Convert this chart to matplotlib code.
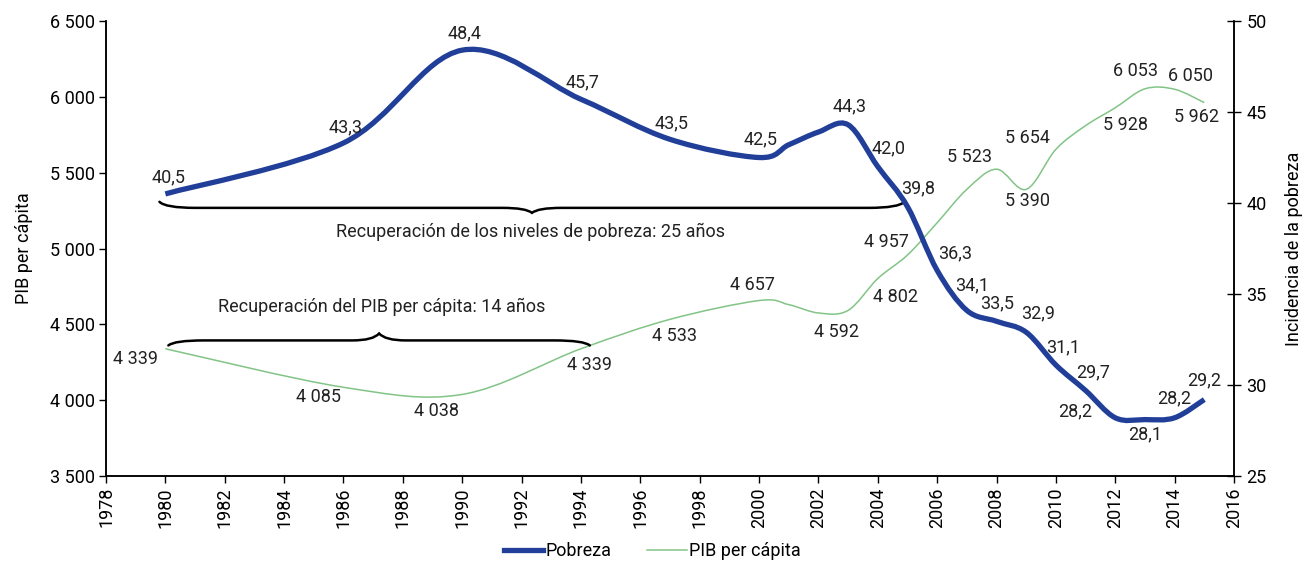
import numpy as np
import matplotlib
matplotlib.use("Agg")
import matplotlib.pyplot as plt
from matplotlib.path import Path
from matplotlib.patches import PathPatch
from matplotlib.lines import Line2D
from matplotlib.ticker import FuncFormatter

plt.rcParams['font.family'] = ['Liberation Sans Narrow', 'Roboto', 'DejaVu Sans']
FS = 13

# Pobreza (%), eje derecho
pob_years = [1980, 1986, 1990, 1994, 1997, 2000, 2001, 2002, 2003, 2004, 2005, 2006,
             2007, 2008, 2009, 2010, 2011, 2012, 2013, 2014, 2015]
pob_values = [40.5, 43.3, 48.4, 45.7, 43.5, 42.5, 43.2, 43.9, 44.3, 42.0, 39.8, 36.3,
              34.1, 33.5, 32.9, 31.1, 29.7, 28.2, 28.1, 28.2, 29.2]
pob_labeled = [True, True, True, True, True, True, False, False, True, True, True, True,
               True, True, True, True, True, True, True, True, True]

# PIB per capita, eje izquierdo
pib_years = [1980, 1986, 1990, 1994, 1997, 2000, 2001, 2002, 2003, 2004, 2005, 2006,
             2007, 2008, 2009, 2010, 2011, 2012, 2013, 2014, 2015]
pib_values = [4339, 4085, 4038, 4339, 4533, 4657, 4630, 4575, 4592, 4802, 4957, 5170,
              5390, 5523, 5390, 5654, 5810, 5928, 6053, 6050, 5962]
pib_labeled = [True, True, True, True, True, True, False, False, True, True, True, False,
               False, True, True, True, False, True, True, True, True]

# label offsets in pixels (x right, y up), only for labeled points
pob_offsets = [(3, 17), (2, 16), (2, 17), (2, 17), (2, 16), (2, 18), (1, 18), (11, 18),
               (11, 18), (18, 17), (5, 25), (1, 18), (12, 19), (7, 18), (8, 18),
               (-40, 6), (0, -15), (0, 19), (0, 19)]
pib_offsets = [(-30, -10), (-25, -10), (-26, -17), (9, -16), (5, -17), (-7, 16), (-12, -22),
               (18, -18), (-21, 13), (-27, 12), (1, -12), (-28, 11), (10, -17), (-9, 18),
               (16, 13), (-8, -14)]

BLUE = '#213f98'
GREEN = '#82c486'


def smooth_path(xs, ys):
    # excel-like smoothed line: bezier segments with tangents (p[i+1]-p[i-1])/6
    pts = np.column_stack([xs, ys]).astype(float)
    n = len(pts)
    verts = [pts[0]]
    codes = [Path.MOVETO]
    for i in range(n - 1):
        p0 = pts[i - 1] if i > 0 else pts[i]
        p1 = pts[i]
        p2 = pts[i + 1]
        p3 = pts[i + 2] if i + 2 < n else pts[i + 1]
        verts += [p1 + (p2 - p0) / 6, p2 - (p3 - p1) / 6, p2]
        codes += [Path.CURVE4] * 3
    return Path(verts, codes)


def brace(ax, x0, x1, y, end_h, tip_h, dx=1.2, tdx=1.0):
    # horizontal curly brace; ends at y+end_h, tip at y+tip_h
    xm = (x0 + x1) / 2
    verts = [(x0, y + end_h), (x0 + 0.2, y), (x0 + dx, y),
             (xm - tdx, y), (xm - 0.2, y), (xm, y + tip_h),
             (xm + 0.2, y), (xm + tdx, y),
             (x1 - dx, y), (x1 - 0.2, y), (x1, y + end_h)]
    codes = [Path.MOVETO, Path.CURVE3, Path.CURVE3,
             Path.LINETO, Path.CURVE3, Path.CURVE3,
             Path.CURVE3, Path.CURVE3,
             Path.LINETO, Path.CURVE3, Path.CURVE3]
    ax.add_patch(PathPatch(Path(verts, codes), fill=False, lw=1.8, color='black',
                           capstyle='round', zorder=3))


fig = plt.figure(figsize=(13.04, 5.65), dpi=100)
ax = fig.add_axes([0.0813, 0.1575, 0.865, 0.8053])
ax2 = ax.twinx()

ax.set_xlim(1978, 2016)
ax.set_ylim(3500, 6500)
ax2.set_ylim(25, 50)

ax.add_patch(PathPatch(smooth_path(pib_years, pib_values), fill=False, color=GREEN,
                       lw=1.1, zorder=2))
ax2.add_patch(PathPatch(smooth_path(pob_years, pob_values), fill=False, color=BLUE,
                        lw=3.8, capstyle='butt', zorder=2))

fmt_pib = lambda v: f"{v:,.0f}".replace(',', ' ')
fmt_pob = lambda v: f"{v:.1f}".replace('.', ',')

k = 0
for x, v, lab in zip(pob_years, pob_values, pob_labeled):
    if lab:
        ax2.annotate(fmt_pob(v), (x, v), xytext=pob_offsets[k], textcoords='offset pixels',
                     ha='center', va='center', fontsize=FS, color='#222222')
        k += 1
k = 0
for x, v, lab in zip(pib_years, pib_values, pib_labeled):
    if lab:
        ax.annotate(fmt_pib(v), (x, v), xytext=pib_offsets[k], textcoords='offset pixels',
                    ha='center', va='center', fontsize=FS, color='#222222')
        k += 1

# braces and recovery notes
brace(ax, 1979.8, 2004.9, 5268, 40, -33)
ax.text(1992.3, 5112, 'Recuperación de los niveles de pobreza: 25 años', ha='center',
        va='center', fontsize=FS, color='#222222')
brace(ax, 1980.1, 1994.3, 4394, -33, 46, dx=1.2, tdx=0.9)
ax.text(1987.3, 4618, 'Recuperación del PIB per cápita: 14 años', ha='center',
        va='center', fontsize=FS, color='#222222')

# axes styling
ax.set_xticks(np.arange(1978, 2017, 2))
ax.set_yticks(np.arange(3500, 6501, 500))
ax2.set_yticks(np.arange(25, 51, 5))
ax.yaxis.set_major_formatter(FuncFormatter(lambda v, p: fmt_pib(v)))
ax.tick_params(axis='x', direction='out', length=5, width=1, rotation=90, pad=3,
               labelsize=FS)
ax.tick_params(axis='y', direction='out', length=5, width=1, pad=3, labelsize=FS)
ax2.tick_params(axis='y', direction='inout', length=10, width=1, pad=4, labelsize=FS)
for a in (ax, ax2):
    a.spines['top'].set_visible(False)
    for s in ('left', 'right', 'bottom'):
        a.spines[s].set_linewidth(1.1)
ax.set_ylabel('PIB per cápita', fontsize=FS, labelpad=12)
ax2.set_ylabel('Incidencia de la pobreza', fontsize=FS, labelpad=13)

handles = [Line2D([], [], color=BLUE, lw=3.8), Line2D([], [], color=GREEN, lw=1.1)]
fig.legend(handles, ['Pobreza', 'PIB per cápita'], loc='center',
           bbox_to_anchor=(0.5, 0.025), ncol=2, frameon=False, fontsize=FS,
           handlelength=2.2, handletextpad=0.1, columnspacing=2.0)

fig.savefig('out.png', dpi=100)
